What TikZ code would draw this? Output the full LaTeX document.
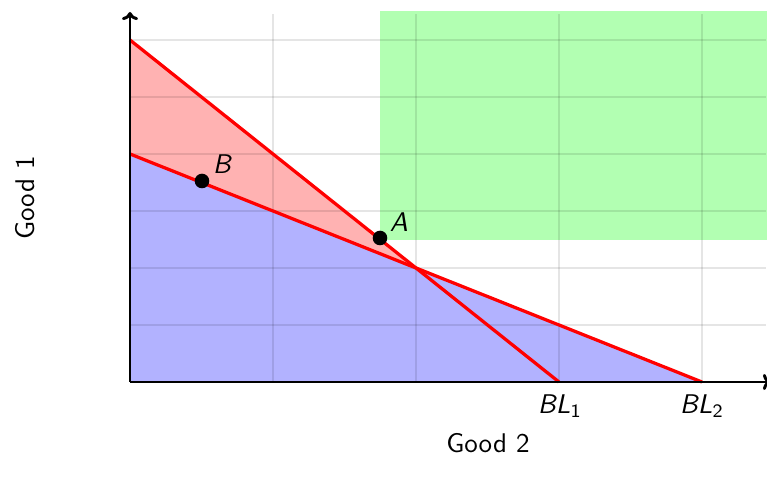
\documentclass[tikz,border=0pt]{standalone}
\usetikzlibrary{arrows.meta}
\renewcommand{\familydefault}{\sfdefault}
\begin{document}
\begin{tikzpicture}[x=0.37pt,y=-0.37pt,
  gridline/.style={black,opacity=0.1,line width=0.5pt},
  budget/.style={red,line width=1.2pt},
  axis/.style={black,line width=1.1pt,-{To[length=3pt,width=6pt]}},
  dot/.style={circle,fill=black,inner sep=0pt,minimum size=5.4pt},
  lab/.style={font=\sffamily\itshape}]
\useasboundingbox (0,0) rectangle (767,489);
% key points
\coordinate (O) at (130,382);
\coordinate (Y1) at (130,40);
\coordinate (Y2) at (130,154);
\coordinate (X1) at (559,382);
\coordinate (X2) at (702,382);
\coordinate (I) at (416,268);
\coordinate (XE) at (771,382);
\coordinate (YE) at (130,12);
% fills
\fill[green!30] (380,11) rectangle (767,240);
\fill[red!30] (Y1) -- (I) -- (Y2) -- cycle;
\fill[blue!30] (Y2) -- (X2) -- (O) -- cycle;
% grid
\foreach \x in {273,416,559,702} \draw[gridline] (\x,14) -- (\x,382);
\foreach \y in {40,97,154,211,268,325} \draw[gridline] (130,\y) -- (766,\y);
% budget lines
\draw[budget] (Y1) -- (X1);
\draw[budget] (Y2) -- (X2);
% axes
\draw[axis] (O) -- (XE);
\draw[axis] (O) -- (YE);
% points
\node[dot] (A) at (380,238) {};
\node[dot] (B) at (202,181) {};
\node[lab] (Alab) at (399,222) {A};
\node[lab] (Blab) at (222,164) {B};
\node (BL1) at (560,406) {\itshape BL\textsubscript{\upshape 1}};
\node (BL2) at (702,406) {\itshape BL\textsubscript{\upshape 2}};
\node (g2) at (488,443) {Good 2};
\node[rotate=90] (g1) at (25,198) {Good 1};
\end{tikzpicture}
\end{document}
